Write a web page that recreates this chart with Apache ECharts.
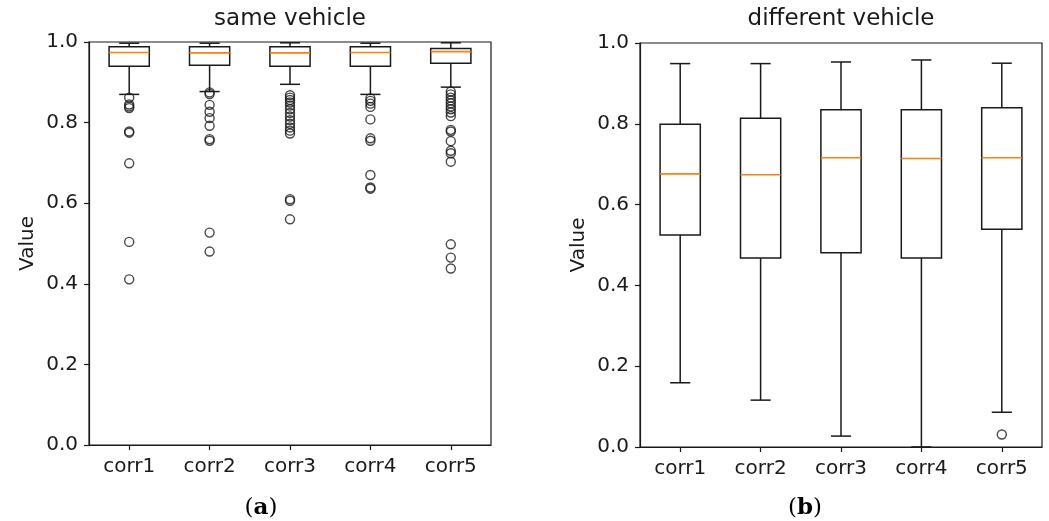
<!DOCTYPE html>
<html>
<head>
<meta charset="utf-8">
<script src="https://cdn.jsdelivr.net/npm/echarts@6/dist/echarts.min.js"></script>
<style>
  html, body { margin: 0; padding: 0; background: #fff; }
  #chart { width: 1049px; height: 521px; }
</style>
</head>
<body>
<div id="chart"></div>
<script>
// Category names shared by both panels
const categories = ['corr1', 'corr2', 'corr3', 'corr4', 'corr5'];

// Panel (a): same vehicle — [lower whisker, Q1, median, Q3, upper whisker]
const sameStats = [
  [0.870, 0.940, 0.974, 0.988, 0.997],
  [0.877, 0.942, 0.973, 0.988, 0.997],
  [0.895, 0.940, 0.973, 0.988, 0.998],
  [0.870, 0.940, 0.974, 0.988, 0.997],
  [0.888, 0.947, 0.976, 0.984, 0.998]
];
// Panel (a): outlier points per category
const sameOutliers = [
  [0.862, 0.845, 0.840, 0.836, 0.778, 0.775, 0.699, 0.504, 0.411],
  [0.875, 0.871, 0.844, 0.827, 0.811, 0.792, 0.759, 0.755, 0.527, 0.480],
  [0.868, 0.862, 0.856, 0.850, 0.842, 0.833, 0.824, 0.815, 0.806, 0.797, 0.788, 0.780, 0.773, 0.610, 0.606, 0.560],
  [0.860, 0.854, 0.847, 0.839, 0.808, 0.761, 0.755, 0.670, 0.639, 0.636],
  [0.877, 0.870, 0.862, 0.855, 0.848, 0.840, 0.833, 0.825, 0.816, 0.782, 0.778, 0.754, 0.730, 0.724, 0.703, 0.498, 0.465, 0.438]
];

// Panel (b): different vehicle — [lower whisker, Q1, median, Q3, upper whisker]
const diffStats = [
  [0.159, 0.525, 0.676, 0.799, 0.949],
  [0.116, 0.468, 0.674, 0.814, 0.949],
  [0.027, 0.481, 0.716, 0.835, 0.953],
  [0.000, 0.468, 0.714, 0.835, 0.958],
  [0.086, 0.539, 0.716, 0.840, 0.950]
];
// Panel (b): outlier points per category
const diffOutliers = [
  [],
  [],
  [],
  [],
  [0.031]
];

// Y-axis tick values
const yTicks = [0.0, 0.2, 0.4, 0.6, 0.8, 1.0];

const FONT = 'DejaVu Sans';
const INK = '#1a1a1a';
const MEDIAN = '#ff7f0e';
const LW = 1.5;

function boxData(stats) {
  return stats.map((s, i) => [i].concat(s));
}
function outlierData(outs) {
  const pts = [];
  outs.forEach((arr, i) => arr.forEach(v => pts.push([i, v])));
  return pts;
}

// Box, whiskers, caps and median drawn through the axis scales
function renderBox(params, api) {
  const c = api.value(0);
  const pLow = api.coord([c, api.value(1)]);
  const pQ1 = api.coord([c, api.value(2)]);
  const pMed = api.coord([c, api.value(3)]);
  const pQ3 = api.coord([c, api.value(4)]);
  const pHigh = api.coord([c, api.value(5)]);
  const band = api.size([1, 0])[0];
  const bw = band * 0.5;
  const cw = band * 0.25;
  const cx = pQ1[0];
  const lineStyle = { stroke: INK, lineWidth: LW, fill: null };
  const line = (x1, y1, x2, y2, style) => ({
    type: 'line',
    shape: { x1, y1, x2, y2 },
    style: style || lineStyle
  });
  return {
    type: 'group',
    children: [
      line(cx, pQ1[1], cx, pLow[1]),
      line(cx, pQ3[1], cx, pHigh[1]),
      line(cx - cw / 2, pLow[1], cx + cw / 2, pLow[1]),
      line(cx - cw / 2, pHigh[1], cx + cw / 2, pHigh[1]),
      {
        type: 'rect',
        shape: { x: cx - bw / 2, y: pQ3[1], width: bw, height: pQ1[1] - pQ3[1] },
        style: { stroke: INK, lineWidth: LW, fill: '#fff' }
      },
      line(cx - bw / 2, pMed[1], cx + bw / 2, pMed[1], { stroke: MEDIAN, lineWidth: 1.6 })
    ]
  };
}

function makeXAxis(gridIndex) {
  return {
    type: 'category',
    gridIndex,
    data: categories,
    boundaryGap: true,
    axisLine: { show: true, lineStyle: { color: INK, width: 1.2 } },
    axisTick: { show: true, alignWithLabel: true, length: 5, lineStyle: { color: INK, width: 1.2 } },
    axisLabel: { color: INK, fontFamily: FONT, fontSize: 20, margin: 12 },
    splitLine: { show: false }
  };
}
function makeYAxis(gridIndex) {
  return {
    type: 'value',
    gridIndex,
    min: 0,
    max: 1,
    interval: 0.2,
    name: 'Value',
    nameLocation: 'middle',
    nameGap: 51,
    nameTextStyle: { color: INK, fontFamily: FONT, fontSize: 20 },
    axisLine: { show: true, lineStyle: { color: INK, width: 1.2 } },
    axisTick: { show: true, length: 5, lineStyle: { color: INK, width: 1.2 } },
    axisLabel: {
      color: INK, fontFamily: FONT, fontSize: 20, margin: 11,
      formatter: v => yTicks.some(t => Math.abs(t - v) < 1e-9) ? v.toFixed(1) : ''
    },
    splitLine: { show: false }
  };
}

const chart = echarts.init(document.getElementById('chart'), null, { renderer: 'canvas' });

chart.setOption({
  animation: false,
  backgroundColor: '#fff',
  grid: [
    { left: 89, top: 42, width: 402, height: 403, show: true, borderColor: INK, borderWidth: 1.2, backgroundColor: 'transparent', containLabel: false, outerBoundsMode: 'none' },
    { left: 640, top: 43, width: 402, height: 404, show: true, borderColor: INK, borderWidth: 1.2, backgroundColor: 'transparent', containLabel: false, outerBoundsMode: 'none' }
  ],
  xAxis: [makeXAxis(0), makeXAxis(1)],
  yAxis: [makeYAxis(0), makeYAxis(1)],
  series: [
    {
      type: 'custom', xAxisIndex: 0, yAxisIndex: 0,
      renderItem: renderBox,
      encode: { x: 0, y: [1, 2, 3, 4, 5] },
      data: boxData(sameStats),
      clip: false, z: 2
    },
    {
      type: 'scatter', xAxisIndex: 0, yAxisIndex: 0,
      symbol: 'circle', symbolSize: 9,
      itemStyle: { color: 'rgba(255,255,255,0)', borderColor: INK, borderWidth: 1.4 },
      data: outlierData(sameOutliers), z: 3
    },
    {
      type: 'custom', xAxisIndex: 1, yAxisIndex: 1,
      renderItem: renderBox,
      encode: { x: 0, y: [1, 2, 3, 4, 5] },
      data: boxData(diffStats),
      clip: false, z: 2
    },
    {
      type: 'scatter', xAxisIndex: 1, yAxisIndex: 1,
      symbol: 'circle', symbolSize: 9,
      itemStyle: { color: 'rgba(255,255,255,0)', borderColor: INK, borderWidth: 1.4 },
      data: outlierData(diffOutliers), z: 3
    }
  ],
  graphic: [
    { type: 'text', x: 290, y: 19, style: { text: 'same vehicle', fill: INK, font: '23px "DejaVu Sans"', align: 'center', verticalAlign: 'middle' } },
    { type: 'text', x: 841, y: 19, style: { text: 'different vehicle', fill: INK, font: '23px "DejaVu Sans"', align: 'center', verticalAlign: 'middle' } },
    {
      type: 'text', x: 261, y: 508,
      style: {
        text: '({b|a})', align: 'center', verticalAlign: 'middle', fill: '#000',
        font: '23px "DejaVu Serif"',
        rich: { b: { fontWeight: 'bold', fontFamily: 'DejaVu Serif', fontSize: 23 } }
      }
    },
    {
      type: 'text', x: 805, y: 508,
      style: {
        text: '({b|b})', align: 'center', verticalAlign: 'middle', fill: '#000',
        font: '23px "DejaVu Serif"',
        rich: { b: { fontWeight: 'bold', fontFamily: 'DejaVu Serif', fontSize: 23 } }
      }
    }
  ]
});
</script>
</body>
</html>
